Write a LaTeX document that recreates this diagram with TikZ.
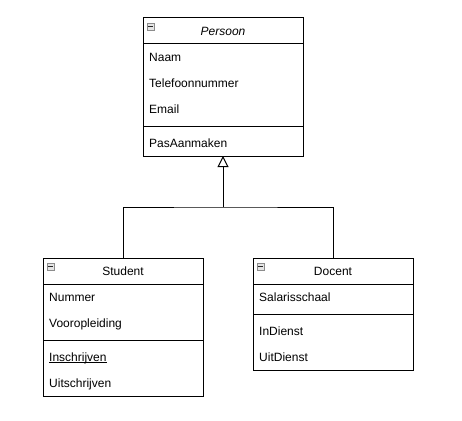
\documentclass[tikz,border=0pt]{standalone}
\usepackage{fontspec}
\setmainfont{Liberation Sans}
\usetikzlibrary{arrows.meta}

\tikzset{
  compartment/.style={draw, line width=1pt, minimum width=160pt, inner sep=0pt, outer sep=0pt, anchor=north},
  member/.style={anchor=base west, inner sep=0pt},
  icon/.style={draw=gray!90, fill=gray!20, line width=0.9pt, minimum size=7pt, inner sep=0pt,
    path picture={\draw[line width=1.4pt, black!85] ([xshift=1.4pt]path picture bounding box.west) -- ([xshift=-1.4pt]path picture bounding box.east);}},
  inherit/.style={line width=1pt}
}

\begin{document}
\begin{tikzpicture}[x=1pt, y=-1pt, font=\fontsize{12}{14}\selectfont]
\useasboundingbox (0,0) rectangle (462,420);

% Draw Persoon
\node[compartment, minimum height=26pt, font=\fontsize{12}{14}\selectfont\itshape] (persoon-head) at (223,18) {Persoon};
\node[compartment, minimum height=82pt] (persoon-attr) at (persoon-head.south) {};
\node[compartment, minimum height=30pt] (persoon-ops) at (persoon-attr.south) {};
\node[icon] (persoon-icon) at (150.5,26.5) {};
\foreach \t [count=\i] in {Naam, Telefoonnummer, Email} {
    \node[member] (persoon-a\i) at (149, {44+\i*26-9}) {\t};
}
\node[member] (persoon-o1) at (149,147) {PasAanmaken};

% Draw Student
\node[compartment, minimum height=26pt] (student-head) at (123,258) {Student};
\node[compartment, minimum height=56pt] (student-attr) at (student-head.south) {};
\node[compartment, minimum height=56pt] (student-ops) at (student-attr.south) {};
\node[icon] (student-icon) at (50.5,266.5) {};
\foreach \t [count=\i] in {Nummer, Vooropleiding} {
    \node[member] (student-a\i) at (49, {284+\i*26-9}) {\t};
}
\foreach \t [count=\i] in {Inschrijven, Uitschrijven} {
    \node[member] (student-o\i) at (49, {344+\i*26-9}) {\t};
}
\draw[line width=0.8pt] ([yshift=-1.6pt]student-o1.base west) -- ([yshift=-1.6pt]student-o1.base east);

% Draw Docent
\node[compartment, minimum height=26pt] (docent-head) at (333,258) {Docent};
\node[compartment, minimum height=30pt] (docent-attr) at (docent-head.south) {};
\node[compartment, minimum height=56pt] (docent-ops) at (docent-attr.south) {};
\node[icon] (docent-icon) at (260.5,266.5) {};
\node[member] (docent-a1) at (259,301) {Salarisschaal};
\foreach \t [count=\i] in {InDienst, UitDienst} {
    \node[member] (docent-o\i) at (259, {318+\i*26-9}) {\t};
}

% Draw inheritance
\coordinate (split) at (223,207);
\draw[inherit] (student-head.north) |- (split) -| (docent-head.north);
\draw[inherit, -{Triangle[open, width=11pt, length=11pt]}] (split) -- (persoon-ops.south);

\end{tikzpicture}
\end{document}
